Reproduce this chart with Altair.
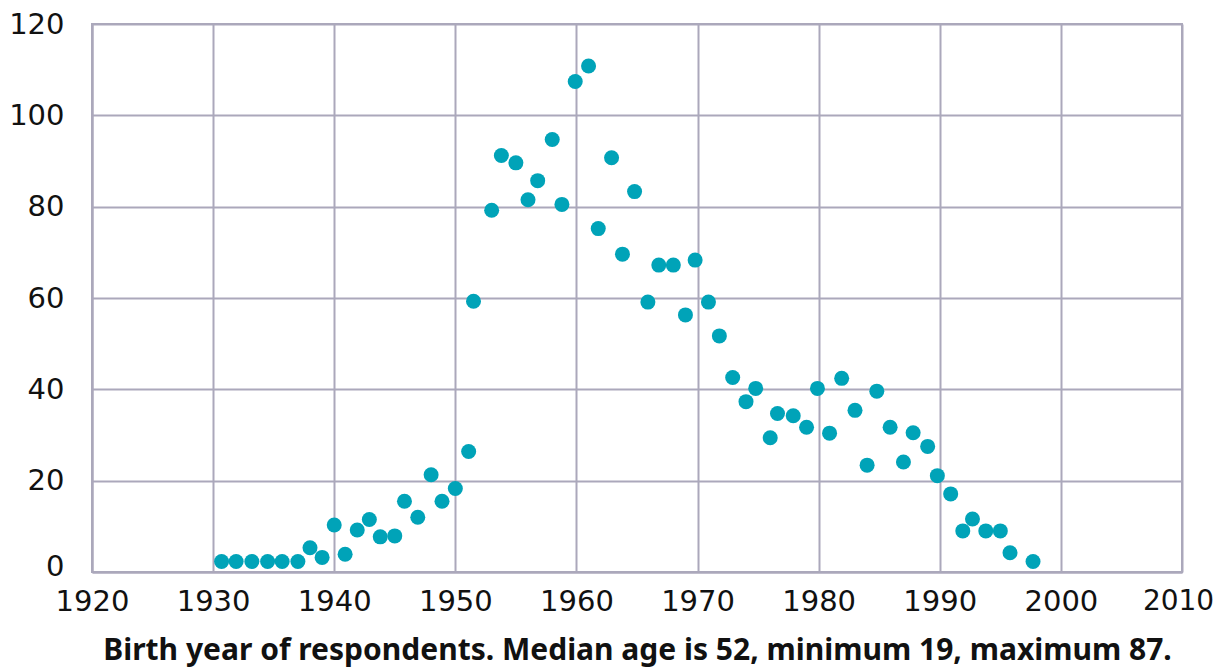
import altair as alt
import pandas as pd

years = [1930.7, 1931.9, 1933.2, 1934.5, 1935.7, 1937.0, 1938.0, 1939.0, 1940.0, 1940.9,
         1941.9, 1942.9, 1943.8, 1945.0, 1945.8, 1946.9, 1948.0, 1948.9, 1950.0, 1951.1,
         1951.5, 1953.0, 1953.8, 1955.0, 1956.0, 1956.8, 1958.0, 1958.8, 1959.9, 1961.0,
         1961.8, 1962.9, 1963.8, 1964.8, 1965.9, 1966.8, 1968.0, 1969.0, 1969.8, 1970.9,
         1971.8, 1972.9, 1974.0, 1974.8, 1976.0, 1976.6, 1977.9, 1979.0, 1979.9, 1980.9,
         1981.9, 1983.0, 1984.0, 1984.8, 1985.9, 1987.0, 1987.8, 1989.0, 1989.8, 1990.9,
         1991.9, 1992.7, 1993.8, 1995.0, 1995.8, 1997.7]
counts = [2.3, 2.3, 2.3, 2.3, 2.3, 2.3, 5.3, 3.2, 10.3, 3.9,
          9.2, 11.5, 7.7, 7.9, 15.5, 12.0, 21.3, 15.5, 18.3, 26.4,
          59.3, 79.2, 91.2, 89.6, 81.5, 85.7, 94.7, 80.5, 107.4, 110.8,
          75.2, 90.7, 69.6, 83.3, 59.1, 67.2, 67.2, 56.3, 68.3, 59.1,
          51.7, 42.6, 37.3, 40.2, 29.4, 34.7, 34.2, 31.7, 40.2, 30.4,
          42.4, 35.4, 23.4, 39.6, 31.7, 24.1, 30.5, 27.5, 21.1, 17.1,
          9.0, 11.6, 9.0, 9.0, 4.2, 2.3]

x_ticks = list(range(1920, 2011, 10))
y_ticks = list(range(0, 121, 20))
x_title = "Birth year of respondents. Median age is 52, minimum 19, maximum 87."

df = pd.DataFrame({"year": years, "count": counts})

GRID = "#aba8bb"
FONT = "DejaVu Sans"

chart = alt.Chart(df).mark_circle(size=225, opacity=1, color="#00a3b8").encode(
    x=alt.X("year:Q",
            scale=alt.Scale(domain=[1920, 2010], nice=False, zero=False),
            axis=alt.Axis(values=x_ticks, format="d", title=x_title,
                          labelFont=FONT, labelColor="#111111",
                          labelFontSize={"condition": {"test": "datum.value === 2010", "value": 28}, "value": 29},
                          labelOffset={"condition": {"test": "datum.value === 2010", "value": -4}, "value": 0},
                          labelPadding=15, ticks=False,
                          titleFont="Noto Sans", titleFontSize=30, titleFontWeight="bold",
                          titleColor="#111111", titlePadding=19,
                          gridColor=GRID, gridWidth=2, gridOpacity=1,
                          domainColor=GRID, domainWidth=2,
                          labelFlush=False, labelOverlap=False)),
    y=alt.Y("count:Q",
            scale=alt.Scale(domain=[0, 120], nice=False),
            axis=alt.Axis(values=y_ticks, title=None,
                          labelFont=FONT, labelFontSize=29, labelColor="#111111",
                          labelPadding=28, ticks=False,
                          labelOffset={"condition": {"test": "datum.value === 0", "value": -6}, "value": 0},
                          gridColor=GRID, gridWidth=2, gridOpacity=1,
                          domainColor=GRID, domainWidth=2,
                          labelFlush=False, labelOverlap=False)),
).properties(
    width=1090, height=548,
    autosize=alt.AutoSizeParams(type="none"),
    padding={"left": 84, "top": 16, "right": 32, "bottom": 95},
).configure_view(stroke=GRID, strokeWidth=2)

chart.save("out.html", embed_options={"renderer": "svg", "actions": False})
